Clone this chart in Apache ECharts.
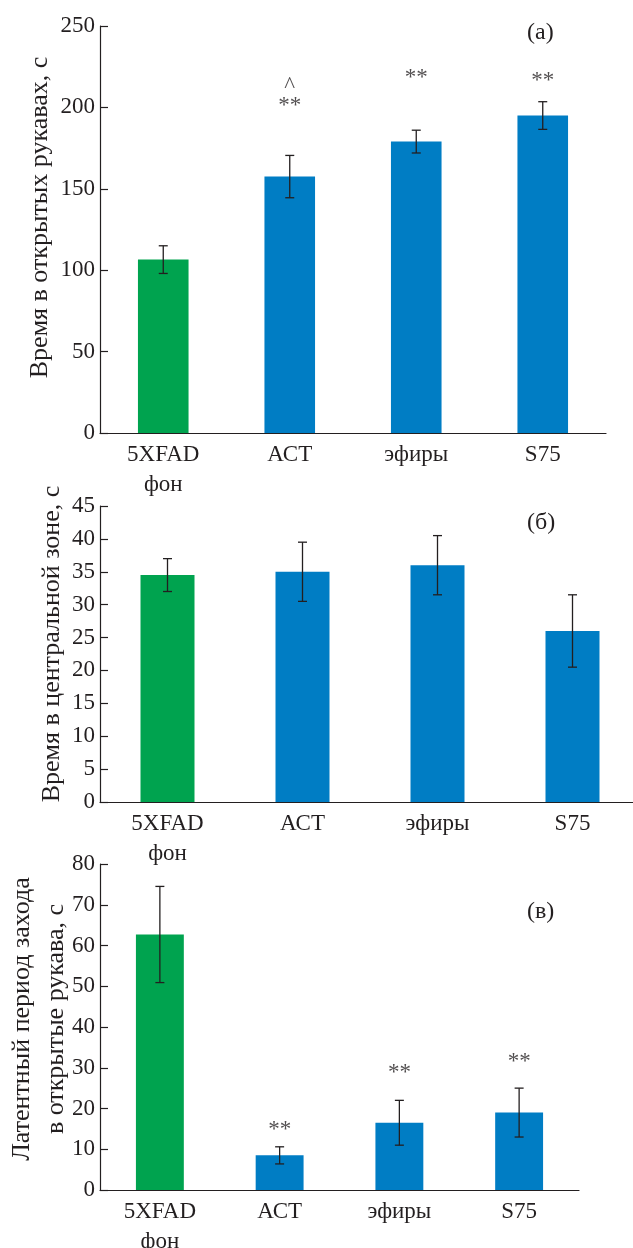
<!DOCTYPE html>
<html>
<head>
<meta charset="utf-8">
<script src="https://cdn.jsdelivr.net/npm/echarts@6/dist/echarts.min.js"></script>
<style>
  html, body { margin: 0; padding: 0; background: #fff; }
  #chart { width: 633px; height: 1248px; }
</style>
</head>
<body>
<div id="chart"></div>
<script>
// категории (общие для трёх панелей)
const categories = ['5XFAD\nфон', 'АСТ', 'эфиры', 'S75'];

// (а) время в открытых рукавах
const timeOpen = [106.5, 157.5, 179, 195];
const timeOpenErr = [8.5, 13, 7, 8.5];
const timeOpenSig = ['', '^\n**', '**', '**'];
const timeOpenSigY = [0, 207, 218, 216];

// (б) время в центральной зоне
const timeCenter = [34.5, 35, 36, 26];
const timeCenterErr = [2.5, 4.5, 4.5, 5.5];

// (в) латентный период захода
const latency = [62.7, 8.5, 16.5, 19];
const latencyErr = [11.8, 2.1, 5.5, 6];
const latencySig = ['', '**', '**', '**'];
const latencySigY = [0, 14.8, 28.8, 31.3];

const GREEN = '#00A34F';
const BLUE = '#007DC4';
const INK = '#231f20';
const FONT = '"Liberation Serif", "DejaVu Serif", serif';

const chart = echarts.init(document.getElementById('chart'));

function barData(values) {
  return values.map((v, i) => ({
    value: v,
    itemStyle: { color: i === 0 ? GREEN : BLUE }
  }));
}

// планки погрешностей
function errSeries(idx, values, errs) {
  return {
    type: 'custom',
    xAxisIndex: idx,
    yAxisIndex: idx,
    silent: true,
    z: 5,
    data: values.map((v, i) => [i, v - errs[i], v + errs[i]]),
    renderItem: function (params, api) {
      const lo = api.coord([api.value(0), api.value(1)]);
      const hi = api.coord([api.value(0), api.value(2)]);
      const w = 4.5;
      const style = { stroke: INK, lineWidth: 1.3 };
      return {
        type: 'group',
        children: [
          { type: 'line', shape: { x1: lo[0], y1: lo[1], x2: hi[0], y2: hi[1] }, style: style },
          { type: 'line', shape: { x1: lo[0] - w, y1: lo[1], x2: lo[0] + w, y2: lo[1] }, style: style },
          { type: 'line', shape: { x1: hi[0] - w, y1: hi[1], x2: hi[0] + w, y2: hi[1] }, style: style }
        ]
      };
    }
  };
}

// значки достоверности
function sigSeries(idx, ys, marks) {
  const data = [];
  ys.forEach((y, i) => { if (marks[i]) data.push({ value: [i, y], mark: marks[i] }); });
  return {
    type: 'scatter',
    xAxisIndex: idx,
    yAxisIndex: idx,
    symbolSize: 0,
    silent: true,
    data: data,
    label: {
      show: true,
      position: 'inside',
      formatter: p => p.data.mark,
      color: INK,
      fontFamily: FONT,
      fontSize: 23,
      lineHeight: 20
    }
  };
}

function xAxis(idx) {
  return {
    type: 'category',
    gridIndex: idx,
    data: categories,
    axisLine: { lineStyle: { color: INK, width: 1.2 } },
    axisTick: { inside: true, length: 8, lineStyle: { color: INK, width: 1.2 } },
    axisLabel: { color: INK, fontFamily: FONT, fontSize: 23, lineHeight: 30, margin: 7, interval: 0 }
  };
}

function yAxis(idx, max, interval, name, gap, shift) {
  return {
    type: 'value',
    gridIndex: idx,
    min: 0,
    max: max,
    interval: interval,
    name: name,
    nameLocation: 'middle',
    nameGap: gap,
    nameMoveOverlap: false,
    nameTextStyle: { color: INK, fontFamily: FONT, fontSize: 26, lineHeight: 34, padding: [0, 0, 0, shift] },
    splitLine: { show: false },
    axisLine: { show: true, lineStyle: { color: INK, width: 1.2 } },
    axisTick: { show: true, inside: true, length: 8, lineStyle: { color: INK, width: 1.2 } },
    axisLabel: { color: INK, fontFamily: FONT, fontSize: 23, margin: 5 }
  };
}

function panelTag(text, x, y) {
  return {
    type: 'text',
    left: x,
    top: y,
    style: { text: text, fill: INK, font: '24px ' + FONT }
  };
}

const option = {
  backgroundColor: '#fff',
  animation: false,
  grid: [
    { left: 100, top: 26, width: 506, height: 407, containLabel: false, outerBoundsMode: 'none' },
    { left: 100, top: 506, width: 540, height: 296, containLabel: false, outerBoundsMode: 'none' },
    { left: 100, top: 864, width: 479, height: 326, containLabel: false, outerBoundsMode: 'none' }
  ],
  xAxis: [xAxis(0), xAxis(1), xAxis(2)],
  yAxis: [
    yAxis(0, 250, 50, 'Время в открытых рукавах, с', 43, 24),
    yAxis(1, 45, 5, 'Время в центральной зоне, с', 31, 20),
    yAxis(2, 80, 10, 'Латентный период захода\nв открытые рукава, с', 27, 16)
  ],
  graphic: [
    panelTag('(а)', 527, 21),
    panelTag('(б)', 527, 511),
    panelTag('(в)', 527, 900)
  ],
  series: [
    { type: 'bar', xAxisIndex: 0, yAxisIndex: 0, barWidth: '40%', data: barData(timeOpen) },
    errSeries(0, timeOpen, timeOpenErr),
    sigSeries(0, timeOpenSigY, timeOpenSig),
    { type: 'bar', xAxisIndex: 1, yAxisIndex: 1, barWidth: '40%', data: barData(timeCenter) },
    errSeries(1, timeCenter, timeCenterErr),
    { type: 'bar', xAxisIndex: 2, yAxisIndex: 2, barWidth: '40%', data: barData(latency) },
    errSeries(2, latency, latencyErr),
    sigSeries(2, latencySigY, latencySig)
  ]
};

chart.setOption(option);
</script>
</body>
</html>
